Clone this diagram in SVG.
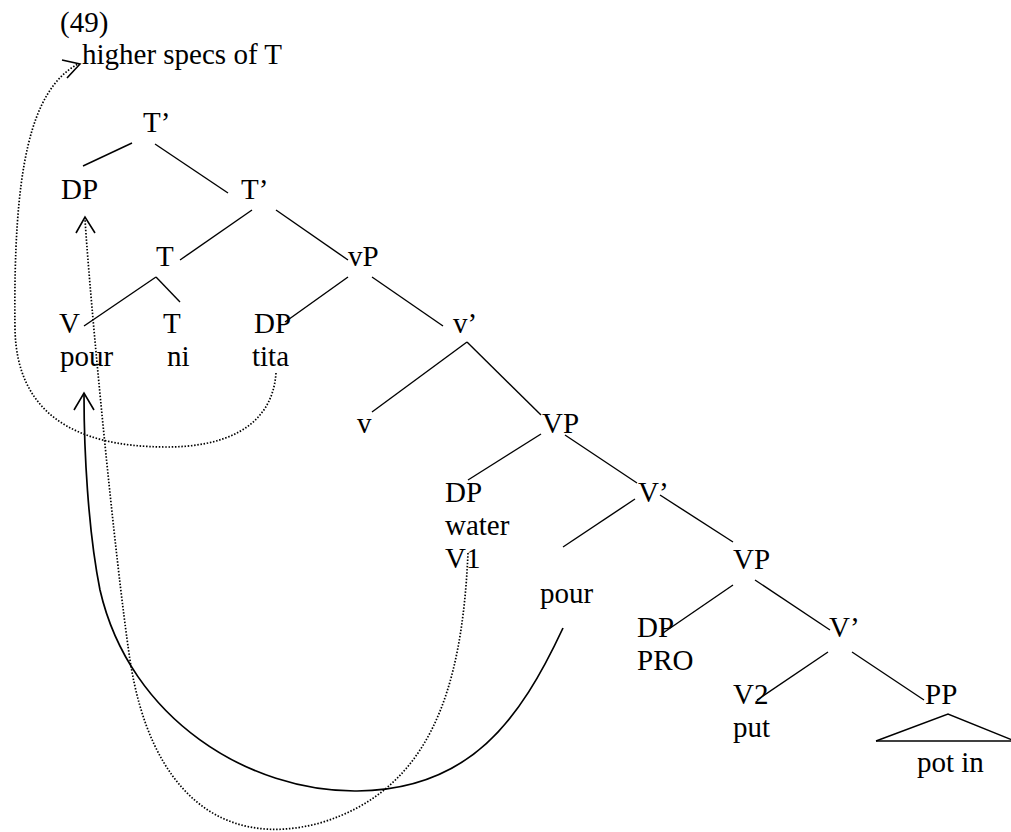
<svg xmlns="http://www.w3.org/2000/svg" width="1011" height="832" viewBox="0 0 1011 832">
<style>
text{font-family:'Liberation Serif','DejaVu Serif',serif;font-size:29px;fill:#000}
.e{stroke:#000;stroke-width:1.4;fill:none;stroke-linecap:butt}
.dot{stroke:#000;stroke-width:1.7;fill:none;stroke-dasharray:1.5 1.7}
.sol{stroke:#000;stroke-width:1.7;fill:none}
.ah{stroke:#000;stroke-width:1.6;fill:none}
</style>
<rect width="1011" height="832" fill="#fff"/>
<g id="labels" font-family="Liberation Serif, DejaVu Serif, serif">
<text id="ex" x="60" y="32">(49)</text>
<text id="higher" x="82" y="64">higher specs of T</text>
</g>
<g id="nodes" font-family="Liberation Serif, DejaVu Serif, serif">
<g id="n-Tbar1"><text x="143" y="132">T’</text></g>
<g id="n-DP1"><text x="61" y="199">DP</text></g>
<g id="n-Tbar2"><text x="241" y="199">T’</text></g>
<g id="n-T"><text x="156" y="266">T</text></g>
<g id="n-vP"><text x="348" y="266">vP</text></g>
<g id="n-V"><text x="59" y="333">V</text><text x="60" y="366">pour</text></g>
<g id="n-T2"><text x="163" y="333">T</text><text x="167" y="366">ni</text></g>
<g id="n-DP2"><text x="254" y="333">DP</text><text x="252" y="366">tita</text></g>
<g id="n-vbar"><text x="453" y="333">v’</text></g>
<g id="n-v"><text x="357" y="433">v</text></g>
<g id="n-VP1"><text x="542" y="433">VP</text></g>
<g id="n-DP3"><text x="445" y="502">DP</text><text x="445" y="535">water</text><text x="445" y="568">V1</text></g>
<g id="n-Vbar1"><text x="638" y="502">V’</text></g>
<g id="n-VP2"><text x="733" y="569">VP</text></g>
<g id="n-pour"><text x="540" y="603">pour</text></g>
<g id="n-DP4"><text x="637" y="637">DP</text><text x="637" y="670">PRO</text></g>
<g id="n-Vbar2"><text x="829" y="637">V’</text></g>
<g id="n-V2"><text x="733" y="704">V2</text><text x="733" y="737">put</text></g>
<g id="n-PP"><text x="925" y="704">PP</text><polyline class="e" points="876,741 948,714 1015,741"/><line class="e" x1="876" y1="741" x2="1011" y2="741"/><text x="917" y="772">pot in</text></g>
</g>
<g id="connectors">
<line class="e" x1="132" y1="143" x2="83" y2="166"/>
<line class="e" x1="155" y1="144" x2="228" y2="193"/>
<line class="e" x1="252" y1="210" x2="180" y2="260"/>
<line class="e" x1="276" y1="210" x2="348" y2="260"/>
<line class="e" x1="156" y1="277" x2="84" y2="326"/>
<line class="e" x1="156" y1="277" x2="180" y2="302"/>
<line class="e" x1="348" y1="277" x2="285" y2="322"/>
<line class="e" x1="372" y1="277" x2="443" y2="326"/>
<line class="e" x1="467" y1="342" x2="372" y2="412"/>
<line class="e" x1="467" y1="342" x2="541" y2="415"/>
<line class="e" x1="541" y1="434" x2="468" y2="480"/>
<line class="e" x1="565" y1="435" x2="637" y2="483"/>
<line class="e" x1="635" y1="499" x2="563" y2="547"/>
<line class="e" x1="660" y1="495" x2="733" y2="542"/>
<line class="e" x1="733" y1="585" x2="663" y2="633"/>
<line class="e" x1="755" y1="580" x2="830" y2="630"/>
<line class="e" x1="828" y1="652" x2="757" y2="700"/>
<line class="e" x1="852" y1="652" x2="924" y2="700"/>
<path class="dot" d="M276,373 C272,430 220,447 167,447 C70,447 17,410 15,330 C13,170 30,90 78,64"/>
<polyline class="ah" points="62,60 80,64 67,78"/>
<path class="dot" d="M468,553 C462,690 430,790 320,823 C220,850 150,790 130,660 C115,560 90,300 85,219"/>
<polyline class="ah" points="76,233 85,217 95,233"/>
<path class="sol" d="M563,628 C520,720 470,790 357,791 C250,792 130,720 100,590 C88,530 84,450 84,395"/>
<polyline class="ah" points="74,410 84,393 94,410"/>
</g>
</svg>
